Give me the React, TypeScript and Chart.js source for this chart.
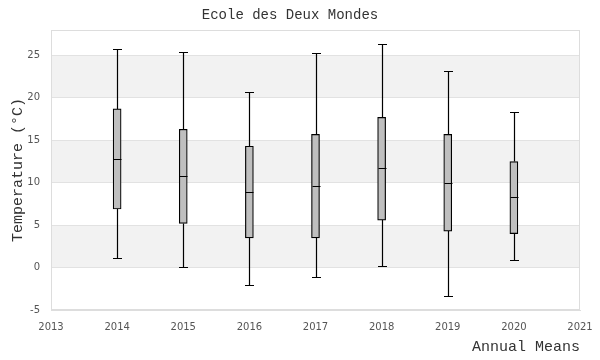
import React, { useEffect, useRef } from "react";
import { Chart, registerables } from "chart.js";

Chart.register(...registerables);

const years = [2014, 2015, 2016, 2017, 2018, 2019, 2020];
const mins = [1.1, 0.1, -2.0, -1.1, 0.2, -3.3, 0.9];
const q1s = [6.9, 5.2, 3.5, 3.5, 5.6, 4.3, 4.0];
const medians = [12.8, 10.8, 8.9, 9.6, 11.7, 10.0, 8.3];
const q3s = [18.7, 16.3, 14.3, 15.7, 17.7, 15.7, 12.5];
const maxs = [25.8, 25.4, 20.7, 25.3, 26.4, 23.2, 18.3];

const titleText = "Ecole des Deux Mondes";
const xTitle = "Annual Means";
const yTitle = "Temperature (°C)";
const yBands: [number, number][] = [[0, 5], [10, 15], [20, 25]];

const MONO = "'Liberation Mono', 'DejaVu Sans Mono', monospace";
const SANS = "'DejaVu Sans', sans-serif";

const bandsPlugin = {
  id: "bands",
  beforeDraw(chart: any) {
    const { ctx, chartArea, scales } = chart;
    const y = scales.y;
    ctx.save();
    ctx.fillStyle = "#f2f2f2";
    yBands.forEach(([a, b]) => {
      const top = y.getPixelForValue(b);
      const bot = y.getPixelForValue(a);
      ctx.fillRect(chartArea.left, top, chartArea.right - chartArea.left, bot - top);
    });
    ctx.restore();
  },
  afterDatasetsDraw(chart: any) {
    const { ctx, chartArea, scales } = chart;
    const x = scales.x;
    const y = scales.y;
    ctx.save();
    ctx.strokeStyle = "#dddddd";
    ctx.lineWidth = 1;
    const l = Math.round(chartArea.left) + 0.5;
    const t = Math.round(chartArea.top) + 0.5;
    const r = Math.round(chartArea.right) - 0.5;
    const b = Math.round(chartArea.bottom) - 0.5;
    ctx.strokeRect(l, t, r - l, b - t);
    ctx.strokeStyle = "#000000";
    ctx.lineWidth = 1.2;
    const half = 4.5;
    years.forEach((yr, i) => {
      const cx = Math.round(x.getPixelForValue(yr)) + 0.5;
      const pMax = Math.round(y.getPixelForValue(maxs[i])) + 0.5;
      const pQ3 = y.getPixelForValue(q3s[i]);
      const pQ1 = y.getPixelForValue(q1s[i]);
      const pMin = Math.round(y.getPixelForValue(mins[i])) + 0.5;
      const pMed = Math.round(y.getPixelForValue(medians[i])) + 0.5;
      ctx.beginPath();
      ctx.moveTo(cx, pMax);
      ctx.lineTo(cx, pQ3);
      ctx.moveTo(cx - half, pMax);
      ctx.lineTo(cx + half, pMax);
      ctx.moveTo(cx, pQ1);
      ctx.lineTo(cx, pMin);
      ctx.moveTo(cx - half, pMin);
      ctx.lineTo(cx + half, pMin);
      ctx.moveTo(cx - 4, pMed);
      ctx.lineTo(cx + 4, pMed);
      ctx.stroke();
    });
    ctx.restore();
  },
};

export default function App() {
  const ref = useRef<HTMLCanvasElement | null>(null);
  useEffect(() => {
    if (!ref.current) return;
    const chart = new Chart(ref.current, {
      type: "bar",
      data: {
        datasets: [
          {
            data: years.map((yr, i) => ({ x: yr, y: [q1s[i], q3s[i]] })) as any,
            backgroundColor: "#bfbfbf",
            borderColor: "#000000",
            borderWidth: 1.2,
            borderSkipped: false,
            barThickness: 8,
          },
        ],
      },
      options: {
        animation: false,
        responsive: true,
        maintainAspectRatio: false,
        layout: { padding: { left: 0, right: 20, top: 0, bottom: 0 } },
        plugins: {
          legend: { display: false },
          tooltip: { enabled: false },
          title: {
            display: true,
            text: titleText,
            color: "#333333",
            font: { family: MONO, size: 14, weight: "normal" },
            padding: { top: 7, bottom: 6.2 },
          },
        },
        scales: {
          x: {
            type: "linear",
            min: 2013,
            max: 2021,
            offset: false,
            ticks: {
              stepSize: 1,
              color: "#555555",
              font: { family: SANS, size: 10 },
              padding: 11,
              callback: (v: any) => String(v),
            },
            grid: { display: false, drawTicks: false },
            border: { display: true, color: "#dddddd" },
            title: {
              display: true,
              text: xTitle,
              align: "end",
              color: "#333333",
              font: { family: MONO, size: 15 },
              padding: { top: 0, bottom: 4 },
            },
            afterFit: (s: any) => {
              s.height = 50;
              s.paddingLeft = 0;
              s.paddingRight = 0;
            },
          },
          y: {
            min: -5,
            max: 28,
            ticks: {
              stepSize: 5,
              color: "#555555",
              font: { family: SANS, size: 10 },
              padding: 11,
              callback: (v: any) => (Number(v) % 5 === 0 ? String(v) : ""),
            },
            grid: { color: "#e2e2e2", drawTicks: false },
            border: { display: true, color: "#dddddd" },
            title: {
              display: true,
              text: yTitle,
              color: "#333333",
              font: { family: MONO, size: 15 },
              padding: { top: 9, bottom: 0 },
            },
            afterFit: (s: any) => {
              s.width = 51;
            },
          },
        },
      },
      plugins: [bandsPlugin],
    });
    return () => chart.destroy();
  }, []);
  return (
    <div style={{ position: "fixed", left: 0, top: 0, width: 600, height: 360, background: "#fff" }}>
      <canvas ref={ref} />
    </div>
  );
}
